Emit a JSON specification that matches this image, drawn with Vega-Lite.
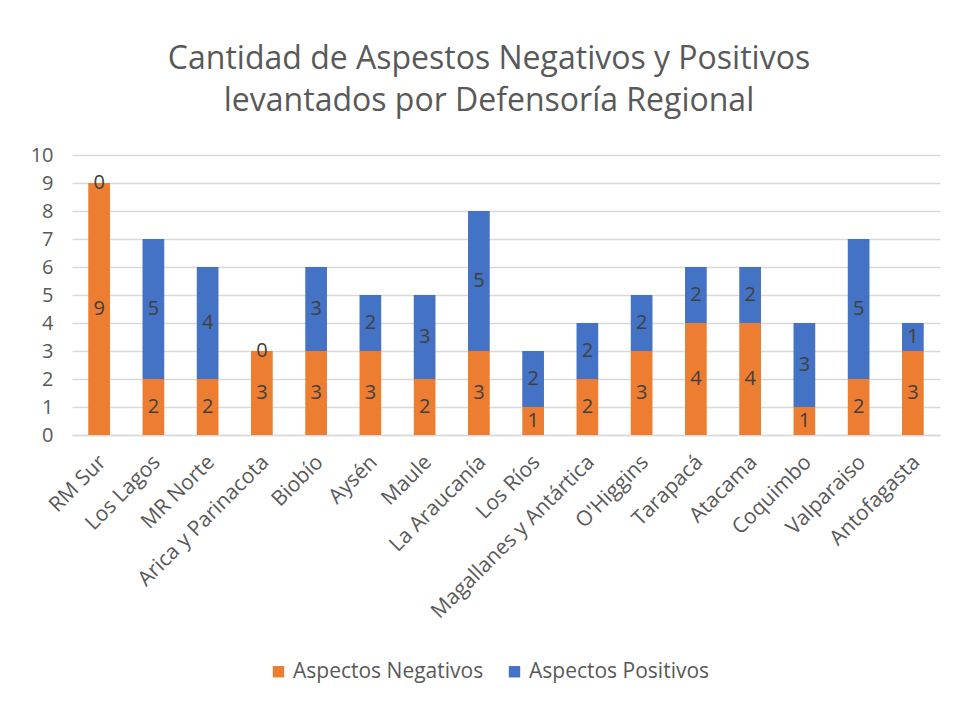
{
  "$schema": "https://vega.github.io/schema/vega-lite/v6.json",
  "width": 868,
  "height": 280,
  "autosize": {"type": "none"},
  "padding": {"left": 72, "top": 155, "right": 16, "bottom": 267},
  "background": "white",
  "config": {
    "font": "Open Sans",
    "view": {"stroke": null},
    "axis": {"labelColor": "#595959", "labelFontSize": 20, "titleColor": "#595959", "labelLimit": 400}
  },
  "title": {
    "text": ["Cantidad de Aspestos Negativos y Positivos", "levantados por Defensoría Regional"],
    "fontSize": 32,
    "fontWeight": "normal",
    "color": "#595959",
    "lineHeight": 42,
    "anchor": "middle",
    "dx": -17,
    "offset": 27
  },
  "data": {
    "values": [
      {"region": "RM Sur", "serie": "Aspectos Negativos", "n": 9},
      {"region": "RM Sur", "serie": "Aspectos Positivos", "n": 0},
      {"region": "Los Lagos", "serie": "Aspectos Negativos", "n": 2},
      {"region": "Los Lagos", "serie": "Aspectos Positivos", "n": 5},
      {"region": "MR Norte", "serie": "Aspectos Negativos", "n": 2},
      {"region": "MR Norte", "serie": "Aspectos Positivos", "n": 4},
      {"region": "Arica y Parinacota", "serie": "Aspectos Negativos", "n": 3},
      {"region": "Arica y Parinacota", "serie": "Aspectos Positivos", "n": 0},
      {"region": "Biobío", "serie": "Aspectos Negativos", "n": 3},
      {"region": "Biobío", "serie": "Aspectos Positivos", "n": 3},
      {"region": "Aysén", "serie": "Aspectos Negativos", "n": 3},
      {"region": "Aysén", "serie": "Aspectos Positivos", "n": 2},
      {"region": "Maule", "serie": "Aspectos Negativos", "n": 2},
      {"region": "Maule", "serie": "Aspectos Positivos", "n": 3},
      {"region": "La Araucanía", "serie": "Aspectos Negativos", "n": 3},
      {"region": "La Araucanía", "serie": "Aspectos Positivos", "n": 5},
      {"region": "Los Ríos", "serie": "Aspectos Negativos", "n": 1},
      {"region": "Los Ríos", "serie": "Aspectos Positivos", "n": 2},
      {"region": "Magallanes y Antártica", "serie": "Aspectos Negativos", "n": 2},
      {"region": "Magallanes y Antártica", "serie": "Aspectos Positivos", "n": 2},
      {"region": "O'Higgins", "serie": "Aspectos Negativos", "n": 3},
      {"region": "O'Higgins", "serie": "Aspectos Positivos", "n": 2},
      {"region": "Tarapacá", "serie": "Aspectos Negativos", "n": 4},
      {"region": "Tarapacá", "serie": "Aspectos Positivos", "n": 2},
      {"region": "Atacama", "serie": "Aspectos Negativos", "n": 4},
      {"region": "Atacama", "serie": "Aspectos Positivos", "n": 2},
      {"region": "Coquimbo", "serie": "Aspectos Negativos", "n": 1},
      {"region": "Coquimbo", "serie": "Aspectos Positivos", "n": 3},
      {"region": "Valparaiso", "serie": "Aspectos Negativos", "n": 2},
      {"region": "Valparaiso", "serie": "Aspectos Positivos", "n": 5},
      {"region": "Antofagasta", "serie": "Aspectos Negativos", "n": 3},
      {"region": "Antofagasta", "serie": "Aspectos Positivos", "n": 1}
    ]
  },
  "transform": [
    {"stack": "n", "groupby": ["region"], "sort": [{"field": "serie", "order": "ascending"}], "as": ["v0", "v1"]}
  ],
  "encoding": {
    "x": {
      "field": "region",
      "type": "nominal",
      "sort": ["RM Sur", "Los Lagos", "MR Norte", "Arica y Parinacota", "Biobío", "Aysén", "Maule", "La Araucanía", "Los Ríos", "Magallanes y Antártica", "O'Higgins", "Tarapacá", "Atacama", "Coquimbo", "Valparaiso", "Antofagasta"],
      "scale": {"paddingInner": 0.6, "paddingOuter": 0.3},
      "axis": {"title": null, "labelAngle": -45, "labelFontSize": 21, "ticks": false, "domainColor": "#D9D9D9", "domainWidth": 1.5, "labelPadding": 16, "labelOffset": -4}
    }
  },
  "layer": [
    {
      "mark": {"type": "bar"},
      "encoding": {
        "y": {
          "field": "v0",
          "type": "quantitative",
          "scale": {"domain": [0, 10]},
          "axis": {"title": null, "values": [0,1,2,3,4,5,6,7,8,9,10], "labelOverlap": false, "ticks": false, "domain": false, "gridColor": "#D9D9D9", "gridWidth": 1.5, "labelPadding": 19}
        },
        "y2": {"field": "v1"},
        "color": {
          "field": "serie",
          "type": "nominal",
          "scale": {"domain": ["Aspectos Negativos", "Aspectos Positivos"], "range": ["#ED7D31", "#4472C4"]},
          "legend": {
            "title": null,
            "orient": "none",
            "direction": "horizontal",
            "legendX": 196,
            "legendY": 506,
            "symbolType": "square",
            "symbolSize": 130,
            "symbolStrokeWidth": 0,
            "labelFontSize": 21,
            "labelLimit": 400,
            "labelColor": "#595959",
            "columnPadding": 20,
            "labelOffset": 4
          }
        }
      }
    },
    {
      "transform": [
        {"fold": ["v0", "v1"], "as": ["k", "pos"]},
        {"aggregate": [{"op": "mean", "field": "pos", "as": "mid"}, {"op": "max", "field": "n", "as": "n"}], "groupby": ["region", "serie"]}
      ],
      "mark": {"type": "text", "fontSize": 20, "color": "#404040", "baseline": "middle"},
      "encoding": {
        "y": {
          "field": "mid",
          "type": "quantitative",
          "scale": {"domain": [0, 10]},
          "axis": {"title": null, "values": [0,1,2,3,4,5,6,7,8,9,10], "labelOverlap": false, "ticks": false, "domain": false, "gridColor": "#D9D9D9", "gridWidth": 1.5, "labelPadding": 19}
        },
        "text": {"field": "n", "type": "quantitative"}
      }
    }
  ]
}
